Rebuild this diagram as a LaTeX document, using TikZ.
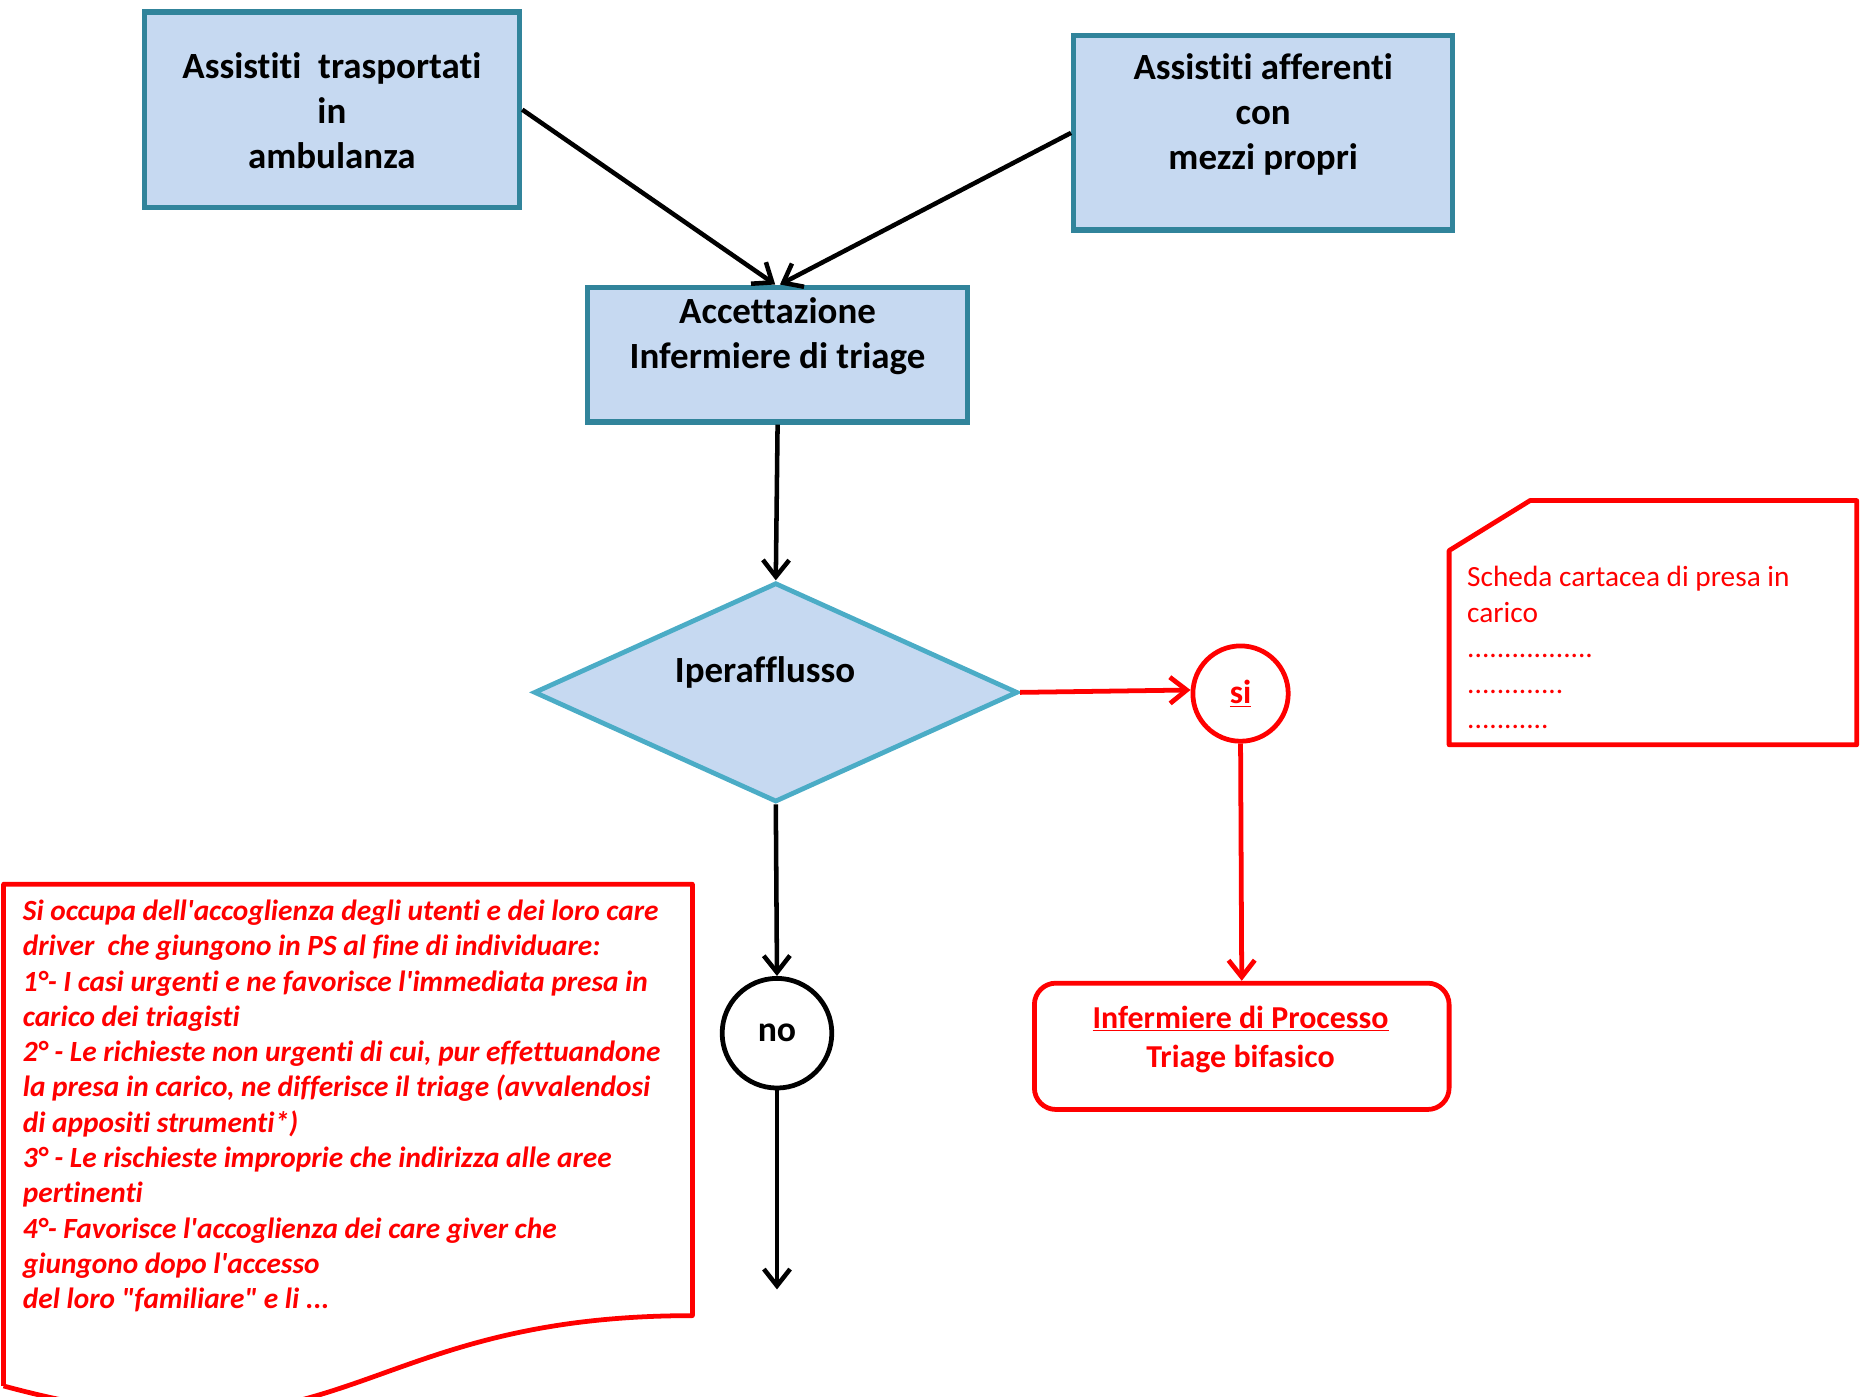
\documentclass[tikz,border=0pt]{standalone}
\usepackage{fontspec}
\setmainfont{Carlito}[Ligatures={TeXOff,NoCommon}]
\usetikzlibrary{shapes.geometric,arrows.meta}
\definecolor{boxfill}{HTML}{C6D9F1}
\definecolor{boxborder}{HTML}{31849B}
\definecolor{diaborder}{HTML}{4BACC6}
\definecolor{myred}{HTML}{FF0000}
\tikzset{
  bluebox/.style={draw=boxborder, fill=boxfill, line width=4.5pt, rectangle, inner sep=0pt},
  bigtext/.style={font=\fontsize{31}{38}\selectfont\bfseries, align=center, text=black, inner sep=0pt},
  arr/.style={line width=3.8pt, draw=black, -{Straight Barb[length=14pt,width=22pt]}},
  redarr/.style={line width=4pt, draw=myred, -{Straight Barb[length=14pt,width=22pt]}},
  redline/.style={draw=myred, line width=4pt, line join=round},
}
\begin{document}
\begin{tikzpicture}[x=1pt,y=-1pt]
\useasboundingbox (0,0) rectangle (1565,1172);
\clip (0,0) rectangle (1565,1172);

% boxes
\node[bluebox, minimum width=315, minimum height=164] (a) at (278.5,92) {};
\node[bigtext] (at) at (278.5,93) {Assistiti\ \ trasportati\\in\\ambulanza};
\node[bluebox, minimum width=318, minimum height=163] (b) at (1060,111.5) {};
\node[bigtext] (bt) at (1060,96) {Assistiti afferenti\\con\\mezzi propri};
\node[bluebox, minimum width=319, minimum height=113] (c) at (652.5,297.5) {};
\node[bigtext] (ct) at (652.5,282) {Accettazione\\Infermiere di triage};

% decision
\node[diamond, draw=diaborder, fill=boxfill, line width=4pt, inner sep=0pt, aspect=2.2,
      minimum width=406, minimum height=184] (d) at (651,581) {};
\node[bigtext] (dt) at (642,564) {Iperafflusso};

% circles
\node[circle, draw=myred, fill=white, line width=4pt, minimum size=80, inner sep=0pt,
      font=\fontsize{28}{34}\selectfont\bfseries, text=myred] (si) at (1041,582) {\underline{si}};
\node[circle, draw=black, fill=white, line width=4pt, minimum size=92, inner sep=0pt,
      font=\fontsize{30}{36}\selectfont\bfseries] (no) at (652,867) {no};

% red rounded box
\node[rectangle, rounded corners=18pt, draw=myred, line width=4pt, fill=white,
      minimum width=348, minimum height=106, inner sep=0pt] (inf) at (1042,878) {};
\node[font=\fontsize{26.8}{32.5}\selectfont\bfseries, text=myred, align=center, inner sep=0pt]
      (inft) at (1041,872) {\underline{Infermiere di Processo}\\Triage bifasico};

% connectors
\draw[arr] (a.east) -- ([xshift=-2pt]c.north);
\draw[arr] (b.west) -- ([xshift=2pt]c.north);
\draw[arr] (c.south) -- (d.north);
\draw[redarr] (d.east) -- ([yshift=3pt]si.west);
\draw[redarr] (si.south) -- (inf.north);
\draw[arr] (d.south) -- (no.north);
\coordinate (end) at (652,1082);
\draw[arr] (no.south) -- (end);

% snipped note
\coordinate (n1) at (1216,462);
\coordinate (n2) at (1284,420);
\coordinate (n3) at (1558,420);
\coordinate (n4) at (1558,625);
\coordinate (n5) at (1216,625);
\draw[redline] (n1) -- (n2) -- (n3) -- (n4) -- (n5) -- cycle;
\node[anchor=north west, inner sep=0pt, align=left, text=myred,
      font=\fontsize{24.6}{29.8}\selectfont] (nt) at (1231,475)
  {Scheda cartacea di presa in\\carico\\.................\\.............\\...........};

% document shape
\coordinate (p1) at (3,742);
\coordinate (p2) at (581,742);
\coordinate (p3) at (581,1104);
\coordinate (p4) at (3,1163);
\draw[redline] (p4) -- (p1) -- (p2) -- (p3) .. controls (292,1104) and (292,1241) .. (p4);
\node[anchor=north west, inner sep=0pt, align=left, text=myred,
      font=\fontsize{24.6}{29.6}\selectfont\bfseries\itshape] (dt2) at (19,755)
  {Si occupa dell'accoglienza degli utenti e dei loro care\\
   driver\ \ che giungono in PS al fine di individuare:\\
   1°- I casi urgenti e ne favorisce l'immediata presa in\\
   carico dei triagisti\\
   2° - Le richieste non urgenti di cui, pur effettuandone\\
   la presa in carico, ne differisce il triage (avvalendosi\\
   di appositi strumenti*)\\
   3° - Le rischieste improprie che indirizza alle aree\\
   pertinenti\\
   4°- Favorisce l'accoglienza dei care giver che\\
   giungono dopo l'accesso\\
   del loro "familiare" e li ...};
\end{tikzpicture}
\end{document}
